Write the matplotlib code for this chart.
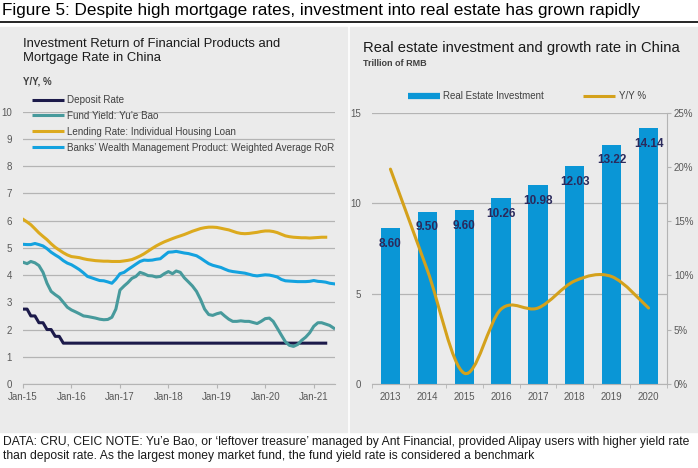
import matplotlib
matplotlib.use('Agg')
import matplotlib.pyplot as plt
import matplotlib.dates as mdates
from matplotlib.lines import Line2D
from matplotlib.patches import Rectangle, PathPatch
from matplotlib.path import Path
import numpy as np
import pandas as pd

plt.rcParams['font.family'] = ['Liberation Sans', 'DejaVu Sans']

W, H = 698, 468

# ---- left chart data (monthly, from Jan-15) ----
deposit_rate = [2.75, 2.75, 2.5, 2.5, 2.25, 2.25, 2.0, 2.0, 1.75, 1.75] + [1.5] * 66

yuebao_yield = [4.47, 4.42, 4.5, 4.45, 4.35, 4.1, 3.7, 3.4, 3.28, 3.18, 3.0, 2.82,
                2.72, 2.65, 2.58, 2.5, 2.48, 2.45, 2.42, 2.38, 2.36, 2.37, 2.45, 2.75,
                3.45, 3.6, 3.72, 3.88, 3.95, 4.1, 4.05, 3.98, 3.97, 3.93, 3.95, 4.05,
                4.13, 4.05, 4.15, 4.1, 3.9, 3.75, 3.6, 3.4, 3.1, 2.75, 2.55, 2.52,
                2.58, 2.62, 2.5, 2.38, 2.3, 2.3, 2.32, 2.3, 2.3, 2.26, 2.22, 2.3,
                2.4, 2.42, 2.3, 2.05, 1.8, 1.55, 1.42, 1.38, 1.45, 1.6, 1.72, 1.88,
                2.12, 2.25, 2.25, 2.2, 2.15, 2.05]

lending_rate = [6.05, 5.95, 5.85, 5.7, 5.55, 5.42, 5.3, 5.15, 5.02, 4.92, 4.82, 4.74,
                4.68, 4.66, 4.64, 4.6, 4.57, 4.55, 4.53, 4.52, 4.51, 4.51, 4.5, 4.5,
                4.5, 4.52, 4.54, 4.57, 4.63, 4.7, 4.78, 4.88, 4.98, 5.07, 5.15, 5.22,
                5.28, 5.34, 5.39, 5.44, 5.49, 5.55, 5.61, 5.66, 5.71, 5.74, 5.76, 5.76,
                5.75, 5.72, 5.69, 5.66, 5.61, 5.56, 5.53, 5.52, 5.53, 5.55, 5.57, 5.6,
                5.62, 5.62, 5.6, 5.56, 5.5, 5.44, 5.41, 5.39, 5.38, 5.37, 5.37, 5.36,
                5.37, 5.38, 5.39, 5.39]

wmp_return = [5.13, 5.12, 5.12, 5.16, 5.12, 5.07, 4.97, 4.84, 4.74, 4.65, 4.53, 4.44,
              4.38, 4.29, 4.2, 4.08, 3.95, 3.9, 3.85, 3.8, 3.79, 3.75, 3.7, 3.85,
              4.05, 4.1, 4.2, 4.3, 4.4, 4.5, 4.55, 4.54, 4.55, 4.58, 4.6, 4.72,
              4.84, 4.85, 4.87, 4.84, 4.81, 4.79, 4.75, 4.71, 4.62, 4.52, 4.42, 4.36,
              4.32, 4.28, 4.22, 4.16, 4.13, 4.11, 4.09, 4.07, 4.03, 3.99, 3.97, 3.99,
              4.01, 4.0, 3.97, 3.93, 3.84, 3.79, 3.78, 3.77, 3.76, 3.76, 3.76, 3.77,
              3.8, 3.77, 3.76, 3.74, 3.7, 3.68]

# ---- right chart data ----
years = ['2013', '2014', '2015', '2016', '2017', '2018', '2019', '2020']
investment = [8.60, 9.50, 9.60, 10.26, 10.98, 12.03, 13.22, 14.14]
yoy_growth = [19.8, 10.5, 1.0, 6.9, 7.0, 9.5, 9.9, 7.0]

GRID = '#b4b4b4'
TICK = '#595959'
TEXT = '#404040'


def px(x0, y0, w, h):
    # pixel box (top-left origin) -> figure fraction rect
    return [x0 / W, 1 - (y0 + h) / H, w / W, h / H]


fig = plt.figure(figsize=(W / 100, H / 100), dpi=100)
fig.patch.set_facecolor('white')

# grey panels
fig.patches.append(Rectangle((0, 1 - 432 / H), 347 / W, (432 - 27) / H,
                             transform=fig.transFigure, color='#ebebeb', zorder=-5))
fig.patches.append(Rectangle((350 / W, 1 - 432 / H), 348 / W, (432 - 27) / H,
                             transform=fig.transFigure, color='#ebebeb', zorder=-5))
fig.lines.append(Line2D([0, 1], [1 - 22 / H, 1 - 22 / H], transform=fig.transFigure,
                        color='black', lw=1.2, zorder=-5))

fig.text(2 / W, 1 - 11 / H, 'Figure 5: Despite high mortgage rates, investment into real estate has grown rapidly',
         family=['Liberation Sans Narrow', 'Liberation Sans'], fontsize=12.3, va='center', ha='left')

fig.text(3 / W, 1 - 436 / H,
         'DATA: CRU, CEIC NOTE: Yu\u2019e Bao, or \u2018leftover treasure\u2019 managed by Ant Financial, provided Alipay users with higher yield rate\n'
         'than deposit rate. As the largest money market fund, the fund yield rate is considered a benchmark',
         family=['Liberation Sans Narrow', 'Liberation Sans'], fontsize=8.7, va='top', ha='left',
         linespacing=1.25, color='#1a1a1a')

# ---- left chart ----
ax1 = fig.add_axes(px(23, 111.7, 312, 272.3))
ax1.patch.set_alpha(0)
dates = pd.date_range('2015-01-01', periods=78, freq='MS')
ax1.plot(dates[:len(deposit_rate)], deposit_rate, color='#1c1a4a', lw=2.2, label='Deposit Rate', zorder=3)
ax1.plot(dates[:len(yuebao_yield)], yuebao_yield, color='#479a9c', lw=2.2, label='Fund Yield: Yu\u2019e Bao', zorder=3)
ax1.plot(dates[:len(lending_rate)], lending_rate, color='#dcaa1e', lw=2.2,
         label='Lending Rate: Individual Housing Loan', zorder=3)
ax1.plot(dates[:len(wmp_return)], wmp_return, color='#13a2df', lw=2.2,
         label='Banks\u2019 Wealth Management Product: Weighted Average RoR', zorder=3)
ax1.set_xlim(pd.Timestamp('2015-01-01'), pd.Timestamp('2021-06-10'))
ax1.set_ylim(0, 10)
ax1.set_yticks(range(0, 11))
ax1.xaxis.set_major_locator(mdates.YearLocator())
ax1.xaxis.set_major_formatter(mdates.DateFormatter('%b-%y'))
ax1.grid(axis='y', color=GRID, lw=0.9)
ax1.set_axisbelow(True)
for s in ['top', 'right', 'left']:
    ax1.spines[s].set_visible(False)
ax1.spines['bottom'].set_color(GRID)
ax1.tick_params(axis='y', length=0, pad=8, labelsize=7, labelcolor=TICK)
ax1.tick_params(axis='x', length=3, color=GRID, pad=3, labelsize=7, labelcolor=TICK)
leg1 = ax1.legend(loc='upper left', bbox_to_anchor=(32 / W, 1 - 95 / H), bbox_transform=fig.transFigure,
                  frameon=False, fontsize=7.1, handlelength=3.2, handletextpad=0.35, labelspacing=0.6,
                  borderpad=0, borderaxespad=0, labelcolor=TEXT)
for h in leg1.get_lines():
    h.set_solid_capstyle('butt')

fig.text(23 / W, 1 - 38 / H, 'Investment Return of Financial Products and\nMortgage Rate in China',
         fontsize=9.4, va='top', ha='left', color='#1a1a1a', linespacing=1.2)
fig.text(23 / W, 1 - 82 / H, 'Y/Y, %', fontsize=7, fontweight='bold', va='center', ha='left', color=TEXT)

# ---- right chart ----
ax2 = fig.add_axes(px(372, 112.7, 295, 271.3))
ax2.patch.set_alpha(0)
xpos = np.arange(len(years))
bars = ax2.bar(xpos, investment, width=0.52, color='#0a96d6', zorder=2)
for x, v in zip(xpos, investment):
    ax2.annotate(f'{v:.2f}', (x, v), xytext=(0, -11), textcoords='offset points',
                 ha='center', va='center', fontsize=8.5, fontweight='bold', color='#2b2a5c', zorder=5)
ax2.set_xlim(-0.5, len(years) - 0.5)
ax2.set_ylim(0, 15)
ax2.set_yticks([0, 5, 10, 15])
ax2.set_xticks(xpos)
ax2.set_xticklabels(years)
ax2.set_xticks(np.arange(-0.5, len(years)), minor=True)
ax2.grid(axis='y', color=GRID, lw=0.9)
ax2.set_axisbelow(True)
for s in ['top', 'right', 'left']:
    ax2.spines[s].set_visible(False)
ax2.spines['bottom'].set_color(GRID)
ax2.tick_params(axis='x', which='major', length=0, pad=6, labelsize=7, labelcolor=TICK)
ax2.tick_params(axis='x', which='minor', length=3, color=GRID)
ax2.tick_params(axis='y', length=0, pad=8, labelsize=7, labelcolor=TICK)

ax3 = ax2.twinx()
ax3.set_ylim(0, 25)
ax3.set_yticks([0, 5, 10, 15, 20, 25])
ax3.set_yticklabels([f'{t}%' for t in [0, 5, 10, 15, 20, 25]])
for s in ['top', 'left', 'bottom']:
    ax3.spines[s].set_visible(False)
ax3.spines['right'].set_color(GRID)
ax3.tick_params(axis='y', length=3, color=GRID, pad=2, labelsize=7, labelcolor=TICK)

# smoothed Y/Y line (Catmull-Rom as cubic Bezier segments)
pts = np.column_stack([xpos, yoy_growth]).astype(float)
verts = [pts[0]]
codes = [Path.MOVETO]
n = len(pts)
for i in range(n - 1):
    p0 = pts[i - 1] if i > 0 else pts[i]
    p1, p2 = pts[i], pts[i + 1]
    p3 = pts[i + 2] if i + 2 < n else pts[i + 1]
    verts += [p1 + (p2 - p0) / 6, p2 - (p3 - p1) / 6, p2]
    codes += [Path.CURVE4] * 3
ax3.add_patch(PathPatch(Path(verts, codes), facecolor='none', edgecolor='#d4a11b', lw=2.2,
                        capstyle='round', zorder=4))

handles = [Line2D([], [], color='#0a96d6', lw=4.5, solid_capstyle='butt'),
           Line2D([], [], color='#d4a11b', lw=2.2, solid_capstyle='butt')]
fig.legend(handles, ['Real Estate Investment', 'Y/Y %'], loc='center left',
           bbox_to_anchor=(408 / W, 1 - 96 / H), frameon=False, ncol=2, fontsize=7,
           handlelength=3.3, handletextpad=0.35, columnspacing=4.0, borderpad=0,
           borderaxespad=0, labelcolor=TEXT)

fig.text(363 / W, 1 - 48 / H, 'Real estate investment and growth rate in China',
         fontsize=10.6, va='center', ha='left', color='#1a1a1a')
fig.text(363 / W, 1 - 63 / H, 'Trillion of RMB', fontsize=6.5, fontweight='bold', va='center', ha='left',
         color=TEXT)

fig.savefig('out.png', dpi=100)
